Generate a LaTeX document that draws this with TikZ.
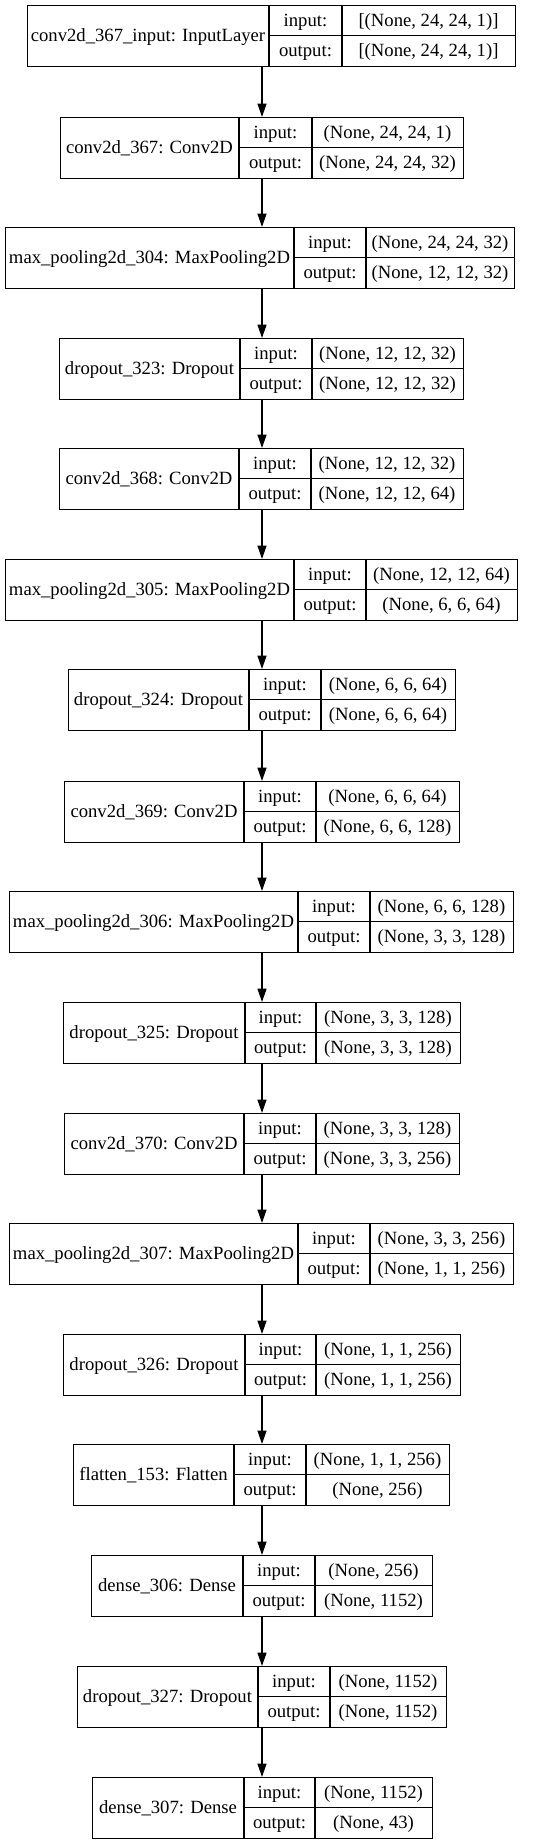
\documentclass[tikz,border=0pt]{standalone}
\usepackage{fontspec}
\setmainfont{Liberation Serif}
\usetikzlibrary{arrows.meta}

\tikzset{
  layer/.style={draw, line width=1pt, inner sep=0pt, anchor=north west, minimum height=45.75pt},
  cell/.style={inner sep=0pt, anchor=base, font=\fontsize{14pt}{16pt}\selectfont},
  flow/.style={line width=1pt, -{Triangle[length=10pt,width=6.7pt]}}
}

\begin{document}
\begin{tikzpicture}[x=0.75pt, y=-0.75pt]

    % Frame of the picture (pixel grid, origin top left)
    \useasboundingbox (0,0) rectangle (545,1844);
    \coordinate (spine) at (262,0); % line of the arrows

    % Layers: number / left / first divider / second divider / right / top / name / input / output
    \foreach \i/\xa/\xb/\xc/\xd/\yt/\lab/\inp/\outp in {
      1/27/269/342/515/5/{conv2d\_367\_input: InputLayer}/{[(None, 24, 24, 1)]}/{[(None, 24, 24, 1)]},
      2/60/239/312/463/117/{conv2d\_367: Conv2D}/{(None, 24, 24, 1)}/{(None, 24, 24, 32)},
      3/5/294/366/514/227/{max\_pooling2d\_304: MaxPooling2D}/{(None, 24, 24, 32)}/{(None, 12, 12, 32)},
      4/59/240/312/463/338/{dropout\_323: Dropout}/{(None, 12, 12, 32)}/{(None, 12, 12, 32)},
      5/59/239/311/463/448/{conv2d\_368: Conv2D}/{(None, 12, 12, 32)}/{(None, 12, 12, 64)},
      6/5/294/366/517/559/{max\_pooling2d\_305: MaxPooling2D}/{(None, 12, 12, 64)}/{(None, 6, 6, 64)},
      7/68/249/321/455/669/{dropout\_324: Dropout}/{(None, 6, 6, 64)}/{(None, 6, 6, 64)},
      8/64/244/316/459/781/{conv2d\_369: Conv2D}/{(None, 6, 6, 64)}/{(None, 6, 6, 128)},
      9/9/298/370/513/891/{max\_pooling2d\_306: MaxPooling2D}/{(None, 6, 6, 128)}/{(None, 3, 3, 128)},
      10/63/245/316/460/1002/{dropout\_325: Dropout}/{(None, 3, 3, 128)}/{(None, 3, 3, 128)},
      11/64/244/316/459/1113/{conv2d\_370: Conv2D}/{(None, 3, 3, 128)}/{(None, 3, 3, 256)},
      12/9/298/370/513/1223/{max\_pooling2d\_307: MaxPooling2D}/{(None, 3, 3, 256)}/{(None, 1, 1, 256)},
      13/63/245/316/460/1334/{dropout\_326: Dropout}/{(None, 1, 1, 256)}/{(None, 1, 1, 256)},
      14/73/234/306/449/1444/{flatten\_153: Flatten}/{(None, 1, 1, 256)}/{(None, 256)},
      15/91/243/315/432/1555/{dense\_306: Dense}/{(None, 256)}/{(None, 1152)},
      16/77/258/330/446/1666/{dropout\_327: Dropout}/{(None, 1152)}/{(None, 1152)},
      17/92/244/315/432/1777/{dense\_307: Dense}/{(None, 1152)}/{(None, 43)}}{
      % Outer box and cell lines
      \node[layer, minimum width={(\xd-\xa)*0.75pt}] (layer\i) at (\xa,\yt) {};
      \draw[line width=1pt] (\xb,\yt) -- ++(0,61) (\xc,\yt) -- ++(0,61)
        (\xb,\yt+30.5) -- (\xd,\yt+30.5);
      % Texts
      \node[cell] (name\i) at ({(\xa+\xb)/2},{\yt+36.5}) {\lab};
      \node[cell] (in\i) at ({(\xb+\xc)/2},{\yt+21.25}) {input:};
      \node[cell] (out\i) at ({(\xb+\xc)/2},{\yt+51.75}) {output:};
      \node[cell] (inshape\i) at ({(\xc+\xd)/2},{\yt+21.25}) {\inp};
      \node[cell] (outshape\i) at ({(\xc+\xd)/2},{\yt+51.75}) {\outp};
    }

    % Arrows between layers
    \foreach \i in {1,...,16}{
      \pgfmathtruncatemacro{\j}{\i+1}
      \draw[flow] (layer\i.south -| spine) -- (layer\j.north -| spine);
    }

\end{tikzpicture}
\end{document}
